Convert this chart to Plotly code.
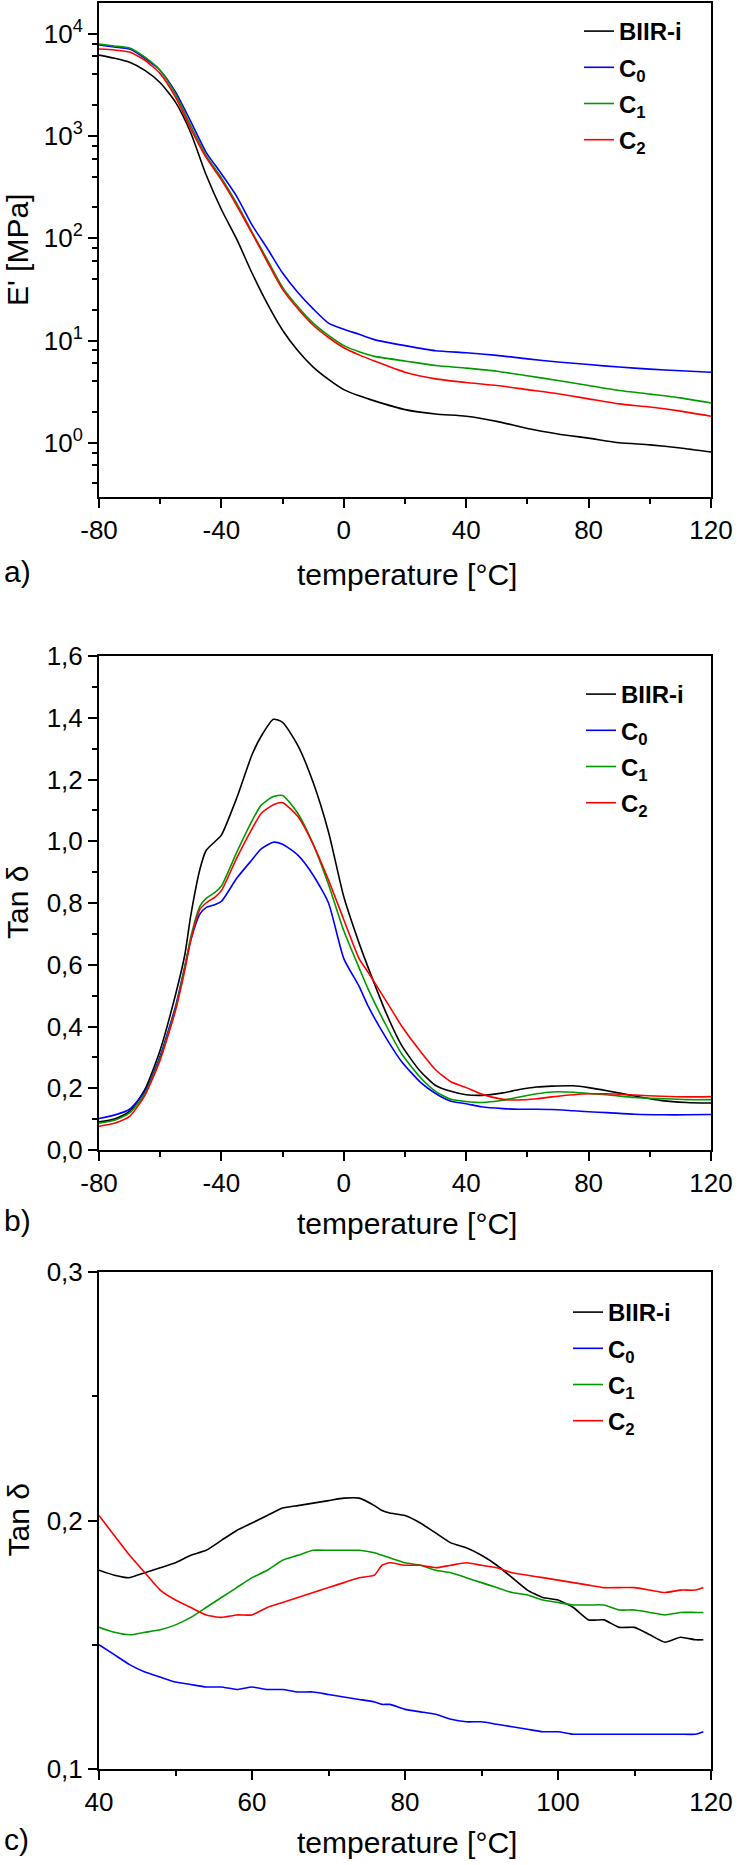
import plotly.graph_objects as go

# ---------------- data ----------------
series_names = ["<b>BIIR-i</b>", "<b>C<sub>0</sub></b>", "<b>C<sub>1</sub></b>", "<b>C<sub>2</sub></b>"]
series_colors = ["#000000", "#0000ff", "#009a00", "#ff0000"]

# panel a: storage modulus E' [MPa]
temp_a = [-80, -75, -70, -65, -60, -55, -50, -45, -40, -35, -30, -25, -20, -15, -10, -5,
          0, 5, 10, 20, 30, 40, 50, 60, 70, 80, 90, 100, 110, 120]
E_biir = [6170, 5750, 5250, 4370, 3310, 2140, 1070, 417, 191, 98, 45.7, 22.9, 12.6, 7.94, 5.50, 4.17,
          3.31, 2.88, 2.57, 2.11, 1.91, 1.82, 1.62, 1.38, 1.22, 1.11, 1.00, 0.955, 0.891, 0.813]
E_c0 = [7760, 7410, 7080, 5750, 4370, 2690, 1380, 692, 427, 257, 135, 79.4, 45.7, 29.5, 20.4, 14.8,
        12.9, 11.5, 10.2, 8.91, 7.94, 7.59, 7.16, 6.61, 6.17, 5.82, 5.50, 5.25, 5.07, 4.90]
E_c1 = [7940, 7590, 7240, 5890, 4370, 2570, 1260, 646, 389, 219, 115, 61.7, 33.1, 21.4, 14.8, 11.2,
        8.91, 7.76, 7.00, 6.31, 5.69, 5.37, 5.01, 4.52, 4.07, 3.63, 3.24, 2.99, 2.75, 2.45]
E_c2 = [7080, 6920, 6610, 5500, 4070, 2400, 1175, 617, 372, 209, 112, 58.9, 31.6, 20.4, 14.1, 10.7,
        8.51, 7.24, 6.31, 4.90, 4.22, 3.89, 3.63, 3.31, 3.02, 2.69, 2.40, 2.24, 2.04, 1.82]

# panel b: tan delta, full range
temp_b = [-80, -75, -70, -65, -60, -55, -52, -50, -47, -45, -42, -40, -35, -30, -27, -23, -20, -15,
          -10, -5, 0, 5, 8, 14, 19, 25, 30, 35, 40, 45, 52, 57, 63, 68, 75, 80, 86, 95, 104, 112, 120]
tan_b_biir = [0.091, 0.100, 0.125, 0.196, 0.324, 0.503, 0.630, 0.760, 0.910, 0.970, 1.000, 1.020, 1.140,
              1.280, 1.340, 1.395, 1.385, 1.310, 1.190, 1.030, 0.820, 0.670, 0.590, 0.440, 0.337, 0.255,
              0.209, 0.190, 0.179, 0.177, 0.185, 0.195, 0.204, 0.207, 0.208, 0.202, 0.192, 0.175, 0.160,
              0.154, 0.152]
tan_b_c0 = [0.102, 0.113, 0.132, 0.190, 0.305, 0.465, 0.593, 0.680, 0.765, 0.785, 0.795, 0.805, 0.880,
            0.940, 0.975, 0.997, 0.990, 0.955, 0.890, 0.800, 0.620, 0.530, 0.465, 0.360, 0.285, 0.220,
            0.183, 0.158, 0.150, 0.140, 0.134, 0.132, 0.132, 0.131, 0.127, 0.124, 0.121, 0.116, 0.114,
            0.114, 0.115]
tan_b_c1 = [0.087, 0.096, 0.120, 0.183, 0.298, 0.458, 0.590, 0.690, 0.790, 0.815, 0.835, 0.855, 0.964,
            1.066, 1.117, 1.145, 1.148, 1.090, 0.990, 0.860, 0.710, 0.590, 0.520, 0.400, 0.310, 0.235,
            0.190, 0.164, 0.157, 0.154, 0.161, 0.171, 0.182, 0.188, 0.187, 0.183, 0.179, 0.170, 0.166,
            0.163, 0.163]
tan_b_c2 = [0.077, 0.087, 0.109, 0.177, 0.292, 0.452, 0.580, 0.680, 0.780, 0.800, 0.820, 0.840, 0.945,
            1.040, 1.090, 1.118, 1.125, 1.080, 0.990, 0.874, 0.746, 0.620, 0.575, 0.480, 0.400, 0.320,
            0.260, 0.221, 0.202, 0.181, 0.164, 0.162, 0.166, 0.172, 0.179, 0.182, 0.182, 0.178, 0.174,
            0.172, 0.173]

# panel c: tan delta, 40-120 °C detail
temp_c = [40, 42, 44, 46, 48, 50, 52, 54, 56, 58, 60, 62, 64, 66, 68, 70, 72, 74, 76, 77, 78, 80,
          82, 84, 86, 88, 90, 92, 94, 96, 98, 100, 102, 104, 106, 108, 110, 112, 114, 116, 118, 119]
tan_c_biir = [0.180, 0.178, 0.177, 0.179, 0.181, 0.183, 0.186, 0.188, 0.192, 0.196, 0.199, 0.202, 0.205,
              0.206, 0.207, 0.208, 0.209, 0.209, 0.206, 0.204, 0.203, 0.202, 0.199, 0.195, 0.191, 0.189,
              0.186, 0.182, 0.177, 0.172, 0.169, 0.168, 0.165, 0.160, 0.160, 0.157, 0.157, 0.154, 0.151,
              0.153, 0.152, 0.152]
tan_c_c0 = [0.150, 0.146, 0.142, 0.139, 0.137, 0.135, 0.134, 0.133, 0.133, 0.132, 0.133, 0.132, 0.132,
            0.131, 0.131, 0.130, 0.129, 0.128, 0.127, 0.126, 0.126, 0.124, 0.123, 0.122, 0.120, 0.119,
            0.119, 0.118, 0.117, 0.116, 0.115, 0.115, 0.114, 0.114, 0.114, 0.114, 0.114, 0.114, 0.114,
            0.114, 0.114, 0.115]
tan_c_c1 = [0.157, 0.155, 0.154, 0.155, 0.156, 0.158, 0.161, 0.165, 0.169, 0.173, 0.177, 0.180, 0.184,
            0.186, 0.188, 0.188, 0.188, 0.188, 0.187, 0.186, 0.185, 0.183, 0.182, 0.180, 0.179, 0.177,
            0.175, 0.173, 0.171, 0.170, 0.168, 0.167, 0.166, 0.166, 0.166, 0.164, 0.164, 0.163, 0.162,
            0.163, 0.163, 0.163]
tan_c_c2 = [0.202, 0.194, 0.186, 0.179, 0.172, 0.168, 0.165, 0.162, 0.161, 0.162, 0.162, 0.165, 0.167,
            0.169, 0.171, 0.173, 0.175, 0.177, 0.178, 0.182, 0.183, 0.182, 0.182, 0.181, 0.182, 0.183,
            0.182, 0.181, 0.179, 0.178, 0.177, 0.176, 0.175, 0.174, 0.173, 0.173, 0.173, 0.172, 0.171,
            0.172, 0.172, 0.173]

# axis ticks and labels
a_xticks = [-80, -40, 0, 40, 80, 120]
a_xlabels = ["-80", "-40", "0", "40", "80", "120"]
a_yticks = [1, 10, 100, 1000, 10000]
a_ylabels = ["10<sup>0</sup>", "10<sup>1</sup>", "10<sup>2</sup>", "10<sup>3</sup>", "10<sup>4</sup>"]
b_yticks = [0.0, 0.2, 0.4, 0.6, 0.8, 1.0, 1.2, 1.4, 1.6]
b_ylabels = ["0,0", "0,2", "0,4", "0,6", "0,8", "1,0", "1,2", "1,4", "1,6"]
c_xticks = [40, 60, 80, 100, 120]
c_xlabels = ["40", "60", "80", "100", "120"]
c_yticks = [0.1, 0.2, 0.3]
c_ylabels = ["0,1", "0,2", "0,3"]

# ---------------- layout helpers ----------------
W, H = 738, 1865
FONT = "Liberation Sans, Arial, sans-serif"


def py(v):  # pixel row -> paper y
    return 1 - v / H


def px(v):
    return v / W


XDOM = [px(99), px(711)]
# (top, bottom, label offset below axis, legend left, legend top offset)
panels = {
    "a": (3, 497, 77, 579, 6),
    "b": (656, 1150, 73, 581, 16),
    "c": (1272, 1769, 73, 568, 18),
}

fig = go.Figure()

LW = 1.6
data_a = [E_biir, E_c0, E_c1, E_c2]
data_b = [tan_b_biir, tan_b_c0, tan_b_c1, tan_b_c2]
data_c = [tan_c_biir, tan_c_c0, tan_c_c1, tan_c_c2]

for i in range(4):
    fig.add_trace(go.Scatter(x=temp_a, y=data_a[i], mode="lines", name=series_names[i],
                             line=dict(color=series_colors[i], width=LW, shape="spline", smoothing=0.6),
                             xaxis="x", yaxis="y", legend="legend", legendgroup="a%d" % i))
for i in range(4):
    fig.add_trace(go.Scatter(x=temp_b, y=data_b[i], mode="lines", name=series_names[i],
                             line=dict(color=series_colors[i], width=LW, shape="spline", smoothing=0.6),
                             xaxis="x2", yaxis="y2", legend="legend2", legendgroup="b%d" % i))
for i in range(4):
    fig.add_trace(go.Scatter(x=temp_c, y=data_c[i], mode="lines", name=series_names[i],
                             line=dict(color=series_colors[i], width=LW, shape="spline", smoothing=0.5),
                             xaxis="x3", yaxis="y3", legend="legend3", legendgroup="c%d" % i))

tickfont = dict(family=FONT, size=26, color="black")
common = dict(showline=True, linecolor="black", linewidth=2, mirror=True, ticks="outside",
              ticklen=9, tickwidth=2, tickcolor="black", showgrid=False, zeroline=False,
              tickfont=tickfont, automargin=False)


def minor_lin(d):
    return dict(ticks="outside", ticklen=5, tickwidth=2, tickcolor="black", dtick=d, showgrid=False)


log_minor = [m * 10 ** k for k in range(-1, 5) for m in (2, 4, 6, 8)]

fig.update_layout(
    xaxis=dict(domain=XDOM, anchor="y", range=[-80, 120], tickmode="array", tickvals=a_xticks,
               ticktext=a_xlabels, minor=minor_lin(20), **common),
    yaxis=dict(domain=[py(panels["a"][1]), py(panels["a"][0])], anchor="x", type="log",
               range=[-0.53, 4.30], tickmode="array", tickvals=a_yticks, ticktext=a_ylabels,
               minor=dict(ticks="outside", ticklen=5, tickwidth=2, tickcolor="black",
                          tickmode="array", tickvals=log_minor, showgrid=False), **common),
    xaxis2=dict(domain=XDOM, anchor="y2", range=[-80, 120], tickmode="array", tickvals=a_xticks,
                ticktext=a_xlabels, minor=minor_lin(20), **common),
    yaxis2=dict(domain=[py(panels["b"][1]), py(panels["b"][0])], anchor="x2", range=[0, 1.6],
                tickmode="array", tickvals=b_yticks, ticktext=b_ylabels, minor=minor_lin(0.1), **common),
    xaxis3=dict(domain=XDOM, anchor="y3", range=[40, 120], tickmode="array", tickvals=c_xticks,
                ticktext=c_xlabels, minor=minor_lin(10), **common),
    yaxis3=dict(domain=[py(panels["c"][1]), py(panels["c"][0])], anchor="x3", range=[0.1, 0.3],
                tickmode="array", tickvals=c_yticks, ticktext=c_ylabels, minor=minor_lin(0.05), **common),
)

legend_common = dict(font=dict(family=FONT, size=24, color="black"), bgcolor="rgba(0,0,0,0)",
                     borderwidth=0, tracegroupgap=2, xanchor="left", yanchor="top", itemwidth=30)
fig.update_layout(
    legend=dict(x=px(panels["a"][3]), y=py(panels["a"][0] + panels["a"][4]), **legend_common),
    legend2=dict(x=px(panels["b"][3]), y=py(panels["b"][0] + panels["b"][4]), **legend_common),
    legend3=dict(x=px(panels["c"][3]), y=py(panels["c"][0] + panels["c"][4]), **legend_common),
)

annots = []
title_font = dict(family=FONT, size=30, color="black")
for key, label, ytitle in (("a", "a)", "E' [MPa]"), ("b", "b)", "Tan δ"), ("c", "c)", "Tan δ")):
    top, bot, off, _, _ = panels[key]
    annots.append(dict(text="temperature [°C]", x=px(407), y=py(bot + off), xref="paper", yref="paper",
                       showarrow=False, font=title_font, xanchor="center", yanchor="middle"))
    annots.append(dict(text=label, x=px(2), y=py(bot + off - 3), xref="paper", yref="paper",
                       showarrow=False, font=title_font, xanchor="left", yanchor="middle"))
    annots.append(dict(text=ytitle, x=px(18), y=py((top + bot) / 2), xref="paper", yref="paper",
                       showarrow=False, font=title_font, textangle=-90, xanchor="center", yanchor="middle"))

fig.update_layout(
    width=W, height=H, margin=dict(l=0, r=0, t=0, b=0), autosize=False,
    paper_bgcolor="white", plot_bgcolor="white", showlegend=True,
    annotations=annots, font=dict(family=FONT, color="black"),
)

# remove the default page margin so the figure fills the window exactly
fig.write_html("out.html", config={"displayModeBar": False, "staticPlot": True},
               post_script="document.body.style.margin='0px';document.body.style.overflow='hidden';")
